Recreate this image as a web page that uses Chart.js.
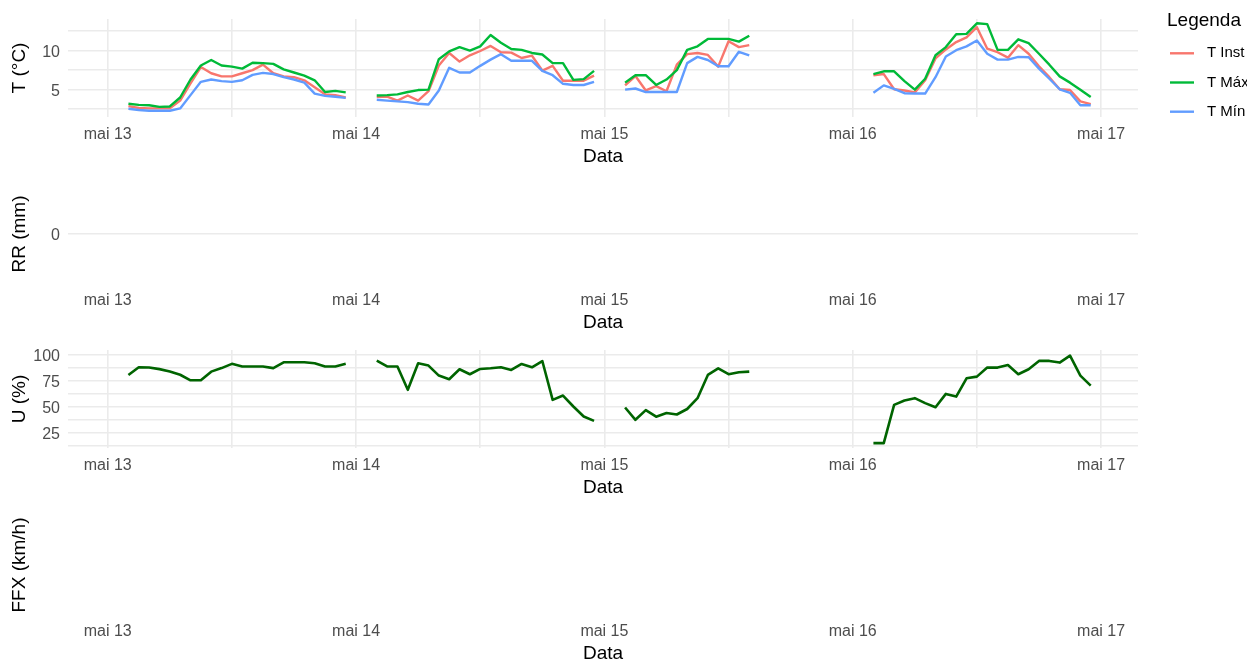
<!DOCTYPE html>
<html lang="pt-BR">
<head>
<meta charset="utf-8">
<title>Série horária</title>
<script src="https://cdn.jsdelivr.net/npm/chart.js@4.4.1/dist/chart.umd.min.js"></script>
<style>
  html, body { margin: 0; padding: 0; background: #fff; overflow: hidden; }
  #painel { position: relative; width: 1247px; height: 659px; }
  #painel canvas { position: absolute; left: 0; }
</style>
</head>
<body>
<div id="painel">
  <canvas id="gT" width="1247" height="175" style="top:0px"></canvas>
  <canvas id="gRR" width="1247" height="175" style="top:166px"></canvas>
  <canvas id="gU" width="1247" height="175" style="top:331px"></canvas>
  <canvas id="gFFX" width="1247" height="175" style="top:497px"></canvas>
</div>
<script>
// horas contadas desde 13/05 00h; as horas 24, 48 e 63 levam null (falhas)
const horas = [
  2, 3, 4, 5, 6, 7, 8, 9, 10, 11, 12, 13, 14, 15, 16, 17, 18, 19, 20, 21, 22, 23, 24,
  26, 27, 28, 29, 30, 31, 32, 33, 34, 35, 36, 37, 38, 39, 40, 41, 42, 43, 44, 45, 46, 47, 48,
  50, 51, 52, 53, 54, 55, 56, 57, 58, 59, 60, 61, 62, 63,
  74, 75, 76, 77, 78, 79, 80, 81, 82, 83, 84, 85, 86, 87, 88, 89, 90, 91, 92, 93, 94, 95
];

const tInst = [
  2.9, 2.65, 2.6, 2.6, 2.6, 3.6, 5.8, 7.9, 7.1, 6.7, 6.7, 7.1, 7.5, 8.2, 7.1, 6.7, 6.6, 6.2, 5.3, 4.4, 4.3, 4.0, null,
  4.1, 4.1, 3.6, 4.25, 3.6, 4.8, 8.1, 9.7, 8.6, 9.4, 9.95, 10.6, 9.8, 9.75, 9.05, 9.35, 7.45, 8.05, 6.15, 6.15, 6.15, 6.8, null,
  5.55, 6.75, 4.9, 5.45, 4.8, 8.2, 9.55, 9.7, 9.45, 7.95, 11.2, 10.45, 10.7, null,
  6.85, 7.0, 5.05, 4.9, 4.65, 6.2, 9.0, 10.15, 11.1, 11.7, 13.0, 10.25, 9.8, 9.1, 10.7, 9.6, 8.0, 6.6, 5.05, 4.95, 3.5, 3.15
];
const tMax = [
  3.2, 3.05, 3.0, 2.8, 2.85, 4.0, 6.3, 8.1, 8.8, 8.1, 7.95, 7.7, 8.45, 8.4, 8.3, 7.6, 7.2, 6.8, 6.2, 4.7, 4.85, 4.65, null,
  4.25, 4.3, 4.4, 4.7, 4.95, 5.0, 8.9, 9.9, 10.45, 10.0, 10.55, 12.0, 11.0, 10.2, 10.1, 9.7, 9.5, 8.4, 8.4, 6.25, 6.35, 7.4, null,
  5.9, 6.85, 6.85, 5.6, 6.3, 7.5, 10.1, 10.55, 11.5, 11.5, 11.5, 11.15, 11.9, null,
  7.0, 7.35, 7.35, 6.1, 5.0, 6.4, 9.4, 10.45, 12.1, 12.15, 13.5, 13.4, 10.1, 10.1, 11.45, 10.95, 9.6, 8.2, 6.7, 5.9, 5.0, 4.05
];
const tMin = [
  2.55, 2.4, 2.3, 2.3, 2.3, 2.6, 4.3, 6.0, 6.3, 6.1, 6.0, 6.2, 6.9, 7.15, 7.0, 6.6, 6.3, 5.9, 4.5, 4.2, 4.1, 3.95, null,
  3.7, 3.6, 3.5, 3.4, 3.2, 3.1, 4.9, 7.8, 7.2, 7.2, 8.05, 8.85, 9.55, 8.7, 8.7, 8.7, 7.4, 6.85, 5.75, 5.6, 5.6, 6.0, null,
  5.0, 5.15, 4.7, 4.7, 4.7, 4.7, 8.4, 9.2, 8.8, 8.0, 8.0, 9.85, 9.4, null,
  4.6, 5.55, 5.1, 4.55, 4.5, 4.5, 6.6, 9.25, 10.05, 10.55, 11.3, 9.6, 8.85, 8.85, 9.2, 9.15, 7.7, 6.4, 5.05, 4.6, 3.0, 3.0
];
const chuva = [
  0, 0, 0, 0, 0, 0, 0, 0, 0, 0, 0, 0, 0, 0, 0, 0, 0, 0, 0, 0, 0, 0, null,
  0, 0, 0, 0, 0, 0, 0, 0, 0, 0, 0, 0, 0, 0, 0, 0, 0, 0, 0, 0, 0, 0, null,
  0, 0, 0, 0, 0, 0, 0, 0, 0, 0, 0, 0, 0, null,
  0, 0, 0, 0, 0, 0, 0, 0, 0, 0, 0, 0, 0, 0, 0, 0, 0, 0, 0, 0, 0, 0
];
const umid = [
  80.8, 88.2, 88.0, 86.4, 84.2, 81.0, 75.7, 75.7, 84.0, 87.4, 91.5, 89.0, 89.0, 89.0, 87.4, 93.0, 93.0, 93.0, 92.1, 89.0, 89.0, 91.5, null,
  94.6, 89.0, 89.0, 66.5, 92.0, 89.8, 80.2, 76.7, 86.3, 81.5, 86.6, 87.2, 88.2, 85.6, 91.4, 88.2, 94.2, 56.9, 61.0, 50.5, 40.9, 36.7, null,
  49.5, 37.7, 47.0, 40.7, 44.2, 42.8, 48.1, 58.5, 80.8, 87.2, 81.5, 83.4, 84.0, null,
  15.3, 15.3, 52.1, 56.3, 58.5, 53.7, 49.8, 62.6, 60.0, 77.6, 79.2, 87.9, 87.9, 90.4, 81.5, 86.3, 94.3, 94.3, 92.7, 99.4, 80.2, 70.6
];
const vento = []; // FFX sem leituras no período

// eixos
const gradeX = [0, 12, 24, 36, 48, 60, 72, 84, 96];
const quebrasX = [0, 24, 48, 72, 96];
const rotulosX = ["mai 13", "mai 14", "mai 15", "mai 16", "mai 17"];
const gradeT = [2.5, 5, 7.5, 10, 12.5];
const quebrasT = [5, 10];
const gradeRR = [0];
const quebrasRR = [0];
const gradeU = [12.5, 25, 37.5, 50, 62.5, 75, 87.5, 100];
const quebrasU = [25, 50, 75, 100];

const fonte = '"Liberation Sans", Arial, Helvetica, sans-serif';
const CINZA_GRADE = "#EBEBEB";
const X_MIN = -3.84, X_MAX = 99.57;

Chart.defaults.font.family = fonte;
Chart.defaults.color = "#4D4D4D";
Chart.defaults.animation = false;

const pontos = (serie) => horas.map((h, i) => ({ x: h, y: serie[i] }));

function eixoX(comGrade) {
  return {
    type: "linear",
    min: X_MIN,
    max: X_MAX,
    offset: false,
    afterBuildTicks: (s) => { s.ticks = gradeX.map((v) => ({ value: v })); },
    afterFit: (s) => { s.height = 58; },
    ticks: {
      padding: 8, maxRotation: 0, autoSkip: false, color: "#4D4D4D", font: { size: 16 },
      callback: (v) => { const i = quebrasX.indexOf(v); return i >= 0 ? rotulosX[i] : ""; },
    },
    grid: { display: comGrade, offset: false, color: CINZA_GRADE, lineWidth: 1.6, drawTicks: false },
    border: { display: false },
    title: { display: true, text: "Data", color: "#000", font: { size: 19 }, padding: { top: 0, bottom: 7 } },
  };
}

function eixoY({ min, max, grade, quebras, titulo, comGrade = true }) {
  const eixo = {
    min, max,
    afterFit: (s) => { s.width = 68; },
    ticks: {
      display: !!grade, autoSkip: false, padding: 8, labelOffset: 2, color: "#4D4D4D", font: { size: 16 },
      callback: (v) => (quebras && quebras.includes(v) ? String(v) : ""),
    },
    grid: { display: comGrade, color: CINZA_GRADE, lineWidth: 1.6, drawTicks: false },
    border: { display: false },
    title: { display: true, text: titulo, color: "#000", font: { size: 19 }, padding: { top: 8, bottom: 0 } },
  };
  if (grade) eixo.afterBuildTicks = (s) => { s.ticks = grade.map((v) => ({ value: v })); };
  return eixo;
}

const baseOpcoes = (scales, extra = {}) => ({
  responsive: false,
  devicePixelRatio: 1,
  animation: false,
  layout: { padding: { left: 0, right: 109, top: 19, bottom: 0 } },
  plugins: Object.assign({ legend: { display: false }, tooltip: { enabled: false } }, extra),
  scales,
});

const linha = (label, serie, cor, largura, ordem) => ({
  label, data: pontos(serie), borderColor: cor, backgroundColor: cor, borderWidth: largura,
  pointRadius: 0, tension: 0, spanGaps: false, borderJoinStyle: "round", order: ordem,
});

// legenda à direita do painel de temperatura
const legendaLateral = {
  id: "legendaLateral",
  afterDraw(chart, _args, opts) {
    const { ctx } = chart;
    ctx.save();
    ctx.textBaseline = "middle";
    ctx.textAlign = "left";
    ctx.fillStyle = "#000";
    ctx.font = `19px ${fonte}`;
    ctx.fillText(opts.titulo, opts.x, opts.y);
    ctx.font = `15px ${fonte}`;
    chart.data.datasets.forEach((ds, i) => {
      const y = opts.y + opts.primeiro + i * opts.passo;
      ctx.strokeStyle = ds.borderColor;
      ctx.lineWidth = ds.borderWidth;
      ctx.beginPath();
      ctx.moveTo(opts.x + 3, y);
      ctx.lineTo(opts.x + 27, y);
      ctx.stroke();
      ctx.fillStyle = "#000";
      ctx.fillText(ds.label, opts.x + 40, y);
    });
    ctx.restore();
  },
};

new Chart(document.getElementById("gT"), {
  type: "line",
  data: {
    datasets: [
      linha("T Inst", tInst, "#F8766D", 2.4, 3),
      linha("T Máx", tMax, "#00BA38", 2.4, 2),
      linha("T Mín", tMin, "#619CFF", 2.4, 1),
    ],
  },
  options: baseOpcoes(
    { x: eixoX(true), y: eixoY({ min: 1.5, max: 14.05, grade: gradeT, quebras: quebrasT, titulo: "T (°C)" }) },
    { legendaLateral: { titulo: "Legenda", x: 1167, y: 21, primeiro: 32.3, passo: 29.2 } }
  ),
  plugins: [legendaLateral],
});

new Chart(document.getElementById("gRR"), {
  type: "bar",
  data: { datasets: [{ label: "RR", data: pontos(chuva), backgroundColor: "#4A90D9", borderWidth: 0 }] },
  options: baseOpcoes({
    x: eixoX(false),
    y: eixoY({ min: -1, max: 1, grade: gradeRR, quebras: quebrasRR, titulo: "RR (mm)" }),
  }),
});

new Chart(document.getElementById("gU"), {
  type: "line",
  data: { datasets: [linha("U", umid, "#006400", 2.6, 1)] },
  options: baseOpcoes({
    x: eixoX(true),
    y: eixoY({ min: 10.6, max: 104.8, grade: gradeU, quebras: quebrasU, titulo: "U (%)" }),
  }),
});

new Chart(document.getElementById("gFFX"), {
  type: "line",
  data: { datasets: [{ label: "FFX", data: vento, borderColor: "#1f4e79", borderWidth: 2, pointRadius: 0 }] },
  options: baseOpcoes({
    x: eixoX(false),
    y: eixoY({ min: 0, max: 1, titulo: "FFX (km/h)", comGrade: false }),
  }),
});
</script>
</body>
</html>
